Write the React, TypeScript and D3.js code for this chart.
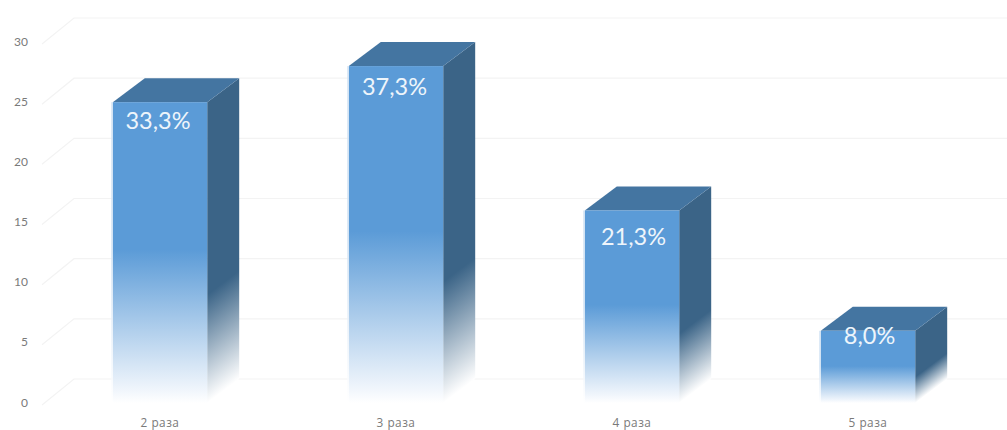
import React from "react";
import * as d3 from "d3";

const categories = ["2 раза", "3 раза", "4 раза", "5 раза"];
const counts = [25, 28, 16, 6];
const yTicks = [0, 5, 10, 15, 20, 25, 30];

const WIDTH = 1007;
const HEIGHT = 430;
const FONT = "Lato, 'Open Sans', sans-serif";

// Projection of the 3D box: how far the depth axis shifts things.
const BAR_DX = 32;
const BAR_DY = 24;
const WALL_DX = 32;
const WALL_DY = 26;

// Hand placement of each share label relative to its bar's top centre.
const labelDrop = [18, 20, 26, 4];
const labelShift = [-2, -1.5, 1.5, 1.5];

const x = d3.scaleBand<string>().domain(categories).range([42, 986]).paddingInner(0.6).paddingOuter(0.3);
const y = d3.scaleLinear().domain([0, 30]).range([403, 42]);
const total = d3.sum(counts);
const shareLabel = (v: number) => ((v / total) * 100).toFixed(1).replace(".", ",") + "%";

export default function App() {
  const w = x.bandwidth();
  const nLen = Math.hypot(BAR_DY, BAR_DX);
  const nx = BAR_DY / nLen;
  const ny = BAR_DX / nLen;

  return (
    <svg
      width={WIDTH}
      height={HEIGHT}
      viewBox={`0 0 ${WIDTH} ${HEIGHT}`}
      style={{ position: "absolute", left: 0, top: 0, display: "block", background: "#fff" }}
    >
      <defs>
        {counts.map((v, i) => {
          const x0 = x(categories[i])!;
          const top = y(v);
          const h = y(0) - top;
          const sideLen = h * ny;
          return (
            <React.Fragment key={i}>
              <linearGradient id={`front-${i}`} x1="0" y1="0" x2="0" y2="1">
                <stop offset="0" stopColor="#5b9bd7" />
                <stop offset="0.49" stopColor="#5b9bd7" />
                <stop offset="0.96" stopColor="#f1f6fc" />
                <stop offset="1" stopColor="#ffffff" />
              </linearGradient>
              <linearGradient id={`edge-${i}`} x1="0" y1="0" x2="0" y2="1">
                <stop offset="0" stopColor="#cfe1f3" />
                <stop offset="0.5" stopColor="#cfe1f3" />
                <stop offset="1" stopColor="#ffffff" />
              </linearGradient>
              <linearGradient
                id={`side-${i}`}
                gradientUnits="userSpaceOnUse"
                x1={x0 + w}
                y1={top}
                x2={x0 + w + nx * sideLen}
                y2={top + ny * sideLen}
              >
                <stop offset="0" stopColor="#3b6487" />
                <stop offset="0.64" stopColor="#3b6487" />
                <stop offset="1" stopColor="#ffffff" />
              </linearGradient>
            </React.Fragment>
          );
        })}
      </defs>

      {/* Back wall gridlines with the slanted floor stubs */}
      {yTicks.map((t) => (
        <path
          key={t}
          d={`M42,${y(t) + 2}L${42 + WALL_DX},${y(t) + 2 - WALL_DY}H${WIDTH}`}
          fill="none"
          stroke="#f3f3f3"
          strokeWidth={1.2}
        />
      ))}

      {/* Value axis labels */}
      {yTicks.map((t) => (
        <text key={t} x={28} y={y(t) - 1} textAnchor="end" dominantBaseline="central" fontFamily={FONT} fontSize={12} fill="#7a7a7a">
          {t}
        </text>
      ))}

      {/* Boxes: side, top, front */}
      {counts.map((v, i) => {
        const x0 = x(categories[i])!;
        const top = y(v);
        const base = y(0);
        return (
          <g key={categories[i]}>
            <path
              d={`M${x0 + w},${top}L${x0 + w + BAR_DX},${top - BAR_DY}V${base - BAR_DY}L${x0 + w},${base}Z`}
              fill={`url(#side-${i})`}
            />
            <path
              d={`M${x0},${top}L${x0 + BAR_DX},${top - BAR_DY}H${x0 + w + BAR_DX}L${x0 + w},${top}Z`}
              fill="#4475a1"
            />
            <rect x={x0} y={top} width={w} height={base - top} fill={`url(#front-${i})`} />
            <rect x={x0 - 1.5} y={top} width={1.5} height={base - top} fill={`url(#edge-${i})`} />
            <text
              x={x0 + w / 2 + labelShift[i]}
              y={top + labelDrop[i]}
              textAnchor="middle"
              dominantBaseline="central"
              fontFamily={FONT}
              fontSize={23.5}
              fill="#eef5fb"
            >
              {shareLabel(v)}
            </text>
          </g>
        );
      })}

      {/* Category labels */}
      {categories.map((c) => (
        <text key={c} x={x(c)! + w / 2} y={421.5} textAnchor="middle" dominantBaseline="central" fontFamily="'Open Sans', sans-serif" fontSize={11.8} letterSpacing={0.5} fill="#7a7a7a">
          {c}
        </text>
      ))}
    </svg>
  );
}
